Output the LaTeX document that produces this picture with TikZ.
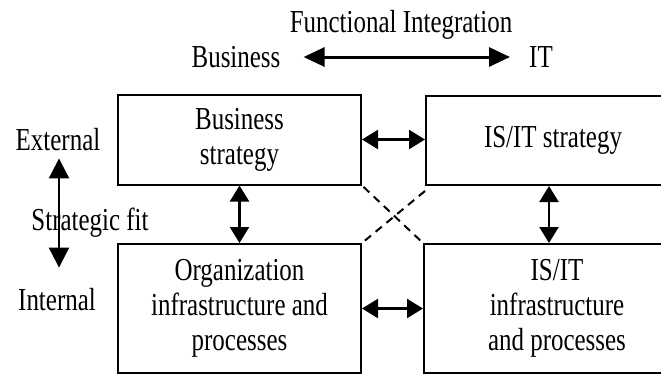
\documentclass[tikz,border=0pt]{standalone}
\usepackage{fontspec}
\setmainfont{Liberation Serif}[FakeStretch=0.78]
\usetikzlibrary{arrows.meta}
\setlength{\lineskiplimit}{-20pt}

\tikzset{
  box/.style={draw, line width=2pt, align=center, inner sep=0pt},
  lbl/.style={inner sep=1pt},
  dblarrow/.style={{Triangle[length=16pt,width=19pt]}-{Triangle[length=16pt,width=19pt]}, line width=2.2pt},
  bigarrow/.style={{Triangle[length=21pt,width=19pt]}-{Triangle[length=21pt,width=19pt]}, line width=3pt},
  crossline/.style={dashed, dash pattern=on 8pt off 6pt, line width=2pt}
}

\begin{document}
\begin{tikzpicture}[x=1pt, y=-1pt, font=\fontsize{32}{35}\selectfont]
      \useasboundingbox (0,0) rectangle (661,376);
      \clip (0,0) rectangle (661,376);

      % the four boxes
      \node[box, minimum width=243pt, minimum height=90pt] (bs) at (239.5,139.5) {Business\\strategy};
      \node[box, minimum width=254pt, minimum height=89pt] (strat) at (553,140.5) {IS/IT strategy};
      \node[box, minimum width=243pt, minimum height=129pt] (org) at (239.5,308.5) {Organization\\infrastructure and\\processes};
      \node[box, minimum width=266pt, minimum height=129pt] (infra) at (557,308.5) {IS/IT\\infrastructure\\and processes};

      % labels round the boxes
      \node[lbl] (fi) at (401,25) {Functional Integration};
      \node[lbl] (biz) at (236,57) {Business};
      \node[lbl] (it) at (541,57) {IT};
      \node[lbl] (ext) at (58,140) {External};
      \node[lbl] (int) at (57,300) {Internal};

      % strategic fit axis
      \draw[{Triangle[length=20pt,width=20pt]}-{Triangle[length=20pt,width=20pt]}, line width=2.2pt]
        ([xshift=1pt,yshift=-6pt]ext.south) -- ([xshift=2pt,yshift=20pt]int.north);
      \node[lbl] (fit) at (90,223) {Strategic fit};

      % functional integration axis
      \draw[bigarrow] ([xshift=22pt]biz.east) -- ([xshift=-18pt]it.west);

      % arrows between the boxes
      \draw[dblarrow] (bs.east) -- (bs.east -| strat.west);
      \draw[dblarrow] (org.east) -- (infra.west);
      \draw[dblarrow] (bs.south) -- (bs.south |- org.north);
      \draw[dblarrow] ([xshift=-4pt]strat.south) -- ([xshift=-8pt]infra.north);

      % dashed cross links
      \draw[crossline, shorten <=2pt, shorten >=3pt] (bs.south east) -- (infra.north west);
      \draw[crossline, shorten >=3pt] ([yshift=-5pt]strat.south west) -- (org.north east);
    \end{tikzpicture}
\end{document}
